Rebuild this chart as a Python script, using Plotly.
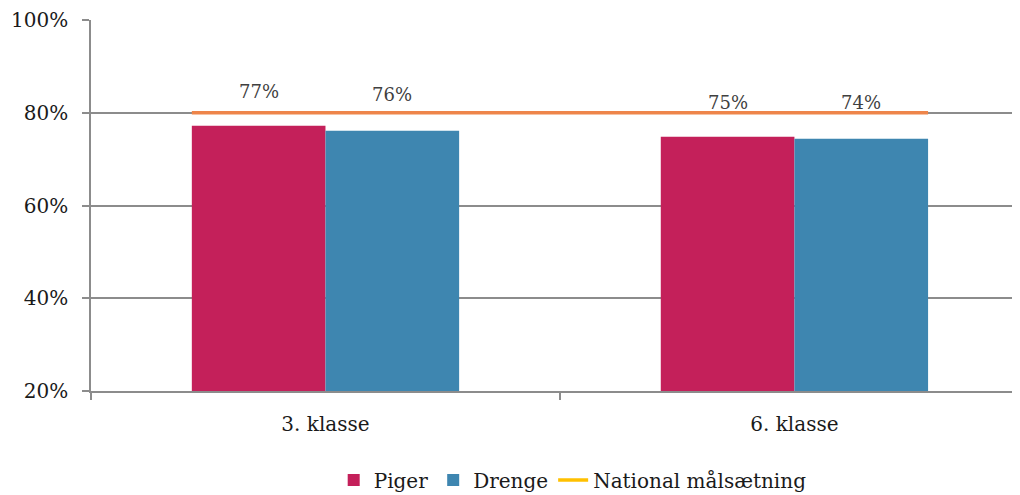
import plotly.graph_objects as go

categories = ["3. klasse", "6. klasse"]
piger = [77.2, 74.8]
drenge = [76.1, 74.4]
piger_labels = ["77%", "75%"]
drenge_labels = ["76%", "74%"]
target = 80
y_ticks = [20, 40, 60, 80, 100]
y_tick_text = ["20%", "40%", "60%", "80%", "100%"]

BARGAP = 0.43
FONT = "DejaVu Serif"
GRID = "#8C8C8C"

x_pos = list(range(len(categories)))
half = (1 - BARGAP) / 2

fig = go.Figure()
fig.add_trace(go.Bar(name="Piger", x=x_pos, y=piger, marker=dict(color="#C4205A", line=dict(width=0))))
fig.add_trace(go.Bar(name="Drenge", x=x_pos, y=drenge, marker=dict(color="#3E86B0", line=dict(width=0))))
fig.add_trace(go.Scatter(x=[x_pos[0] - half, x_pos[-1] + half], y=[target, target], mode="lines",
                         line=dict(color="#EE854A", width=3.5), showlegend=False, hoverinfo="skip"))
fig.add_trace(go.Scatter(name="National målsætning", x=[None], y=[None], mode="lines",
                         line=dict(color="#FFC000", width=3.5)))

ann = []
for i, x in enumerate(x_pos):
    ann.append(dict(x=x - half / 2, y=piger[i], text=piger_labels[i], showarrow=False, yshift=34,
                    xref="x", yref="y", font=dict(family=FONT, size=18, color="#404040")))
    ann.append(dict(x=x + half / 2, y=drenge[i], text=drenge_labels[i], showarrow=False, yshift=36,
                    xref="x", yref="y", font=dict(family=FONT, size=18, color="#404040")))

fig.update_layout(
    width=1012, height=487,
    margin=dict(l=83, r=0, t=12, b=104),
    paper_bgcolor="white", plot_bgcolor="white",
    barmode="group", bargap=BARGAP, bargroupgap=0,
    font=dict(family=FONT, size=20, color="#1a1a1a"),
    annotations=ann,
    showlegend=True,
    legend=dict(orientation="h", xref="container", yref="container", x=0.558, y=0.031,
                xanchor="center", yanchor="middle", font=dict(family=FONT, size=20, color="#1a1a1a"),
                itemwidth=30, tracegroupgap=0),
    xaxis=dict(range=[-0.5, 1.481], tickvals=x_pos, ticktext=categories, showgrid=False,
               zeroline=False, showline=True, linecolor=GRID, linewidth=1.5, ticks="",
               ticklabelstandoff=14,
               minor=dict(tickvals=[-0.5, 0.5, 1.5], ticks="outside", ticklen=7, tickcolor=GRID, tickwidth=1.5)),
    yaxis=dict(range=[20, 100], tickvals=y_ticks, ticktext=y_tick_text, showgrid=True, gridcolor=GRID,
               gridwidth=1.5, zeroline=False, showline=True, linecolor=GRID, linewidth=1.5,
               ticks="outside", ticklen=7, tickcolor=GRID, tickwidth=1.5, ticklabelstandoff=10),
)

fig.write_html("out.html")
